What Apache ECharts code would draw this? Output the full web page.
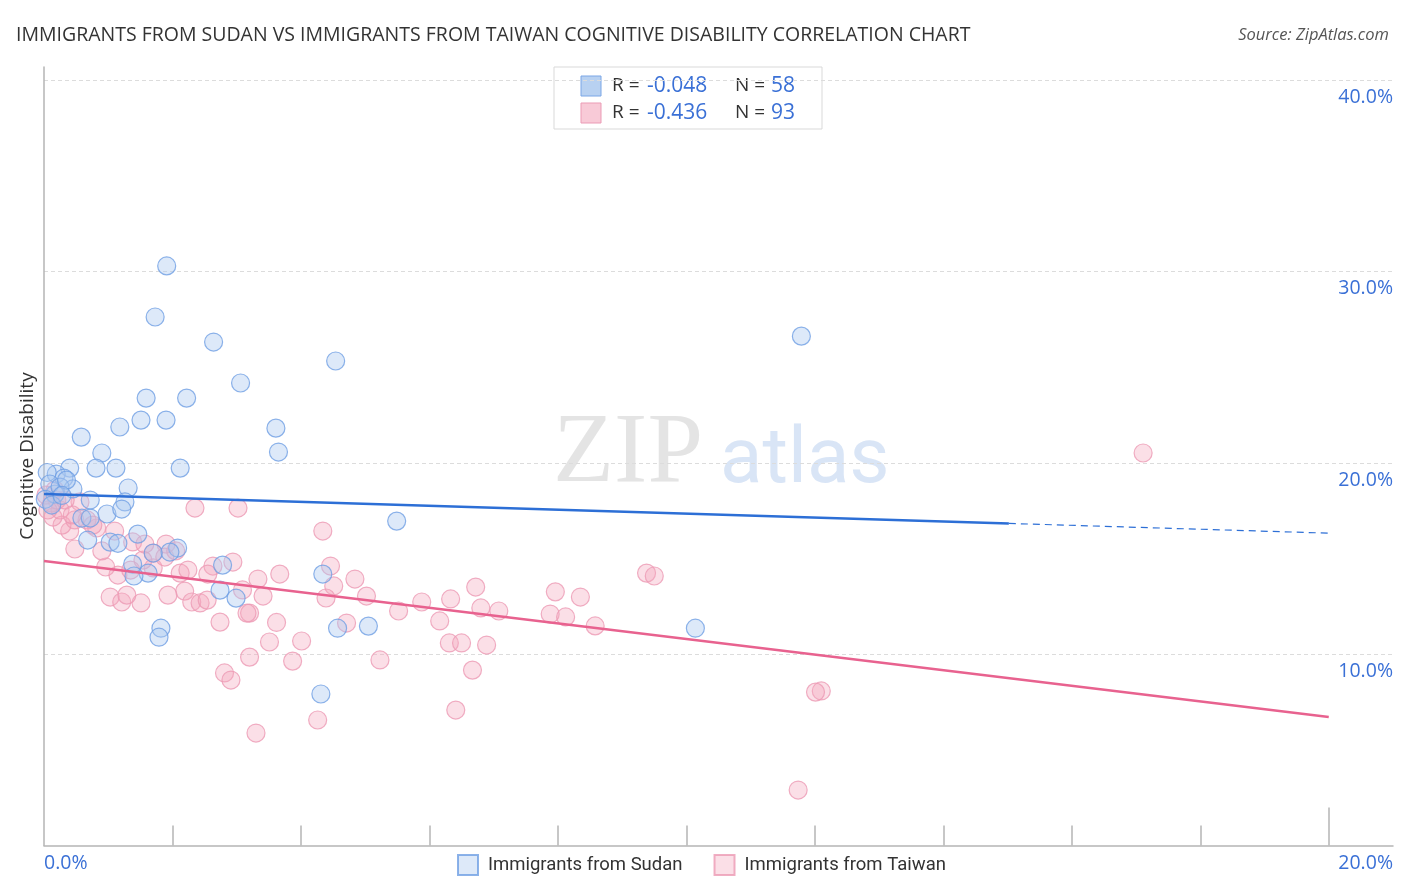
<!DOCTYPE html>
<html>
<head>
<meta charset="utf-8">
<title>Cognitive Disability correlation</title>
<script src="https://cdn.jsdelivr.net/npm/echarts@6/dist/echarts.min.js"></script>
<style>
html, body { margin: 0; padding: 0; background: #fff; }
#chart { width: 1406px; height: 892px; }
</style>
</head>
<body>
<div id="chart"></div>
<script>
// values in percent: [x share of immigrants, cognitive disability]
var sudanPoints = [
	[1.91, 30.30], [1.73, 27.63], [2.64, 26.32], [4.54, 25.33], [11.79, 26.63],
	[3.06, 24.18], [1.59, 23.39], [2.22, 23.39], [1.51, 22.24], [1.90, 22.24],
	[1.18, 21.88], [3.61, 21.82], [0.58, 21.35], [3.65, 20.57], [0.90, 20.52],
	[0.40, 19.73], [0.81, 19.73], [1.12, 19.73], [2.12, 19.73], [0.19, 19.42],
	[0.31, 19.21], [0.05, 19.50], [0.45, 18.64], [1.31, 18.69], [0.17, 18.37],
	[0.72, 18.06], [1.26, 17.96], [0.98, 17.33], [1.21, 17.59], [0.59, 17.12],
	[0.72, 17.12], [5.49, 16.96], [1.46, 16.28], [1.03, 15.86], [0.68, 15.97],
	[2.08, 15.55], [1.96, 15.34], [1.70, 15.29], [1.38, 14.71], [2.78, 14.66],
	[1.62, 14.24], [1.40, 14.09], [4.34, 14.19], [2.74, 13.35], [2.99, 12.93],
	[1.82, 11.36], [1.79, 10.89], [4.57, 11.36], [5.05, 11.47], [10.14, 11.36],
	[4.31, 7.92], [0.09, 18.90], [0.25, 18.74], [0.35, 19.10], [1.15, 15.80],
	[0.02, 18.10], [0.12, 17.80], [0.28, 18.30]
];
var taiwanPoints = [
	[17.11, 20.52], [12.10, 8.08], [12.01, 8.02], [11.74, 2.90], [9.38, 14.24],
	[9.50, 14.09], [7.96, 13.26], [8.35, 12.99], [7.88, 12.10], [8.12, 11.95],
	[8.58, 11.48], [6.72, 13.51], [6.33, 12.89], [5.88, 12.73], [5.52, 12.26],
	[6.80, 12.42], [7.08, 12.26], [6.16, 11.74], [6.31, 10.59], [6.50, 10.59],
	[6.89, 10.48], [6.67, 9.17], [6.41, 7.08], [5.23, 9.70], [5.02, 13.04],
	[4.84, 13.93], [4.51, 13.57], [4.39, 12.94], [4.46, 14.61], [4.34, 16.44],
	[4.71, 11.63], [4.26, 6.56], [4.01, 10.69], [3.87, 9.64], [3.62, 11.66],
	[3.67, 14.19], [3.33, 13.93], [3.41, 13.04], [3.51, 10.64], [3.20, 12.15],
	[3.30, 5.88], [3.20, 9.85], [2.81, 9.02], [2.91, 8.65], [3.02, 17.64],
	[2.35, 17.64], [2.94, 14.82], [2.63, 14.61], [2.55, 14.19], [3.09, 13.36],
	[3.16, 12.15], [2.74, 11.68], [2.19, 13.30], [1.93, 13.09], [2.30, 12.73],
	[2.43, 12.68], [2.54, 12.83], [1.51, 12.68], [1.03, 12.99], [1.21, 12.73],
	[1.29, 13.09], [2.12, 14.24], [1.70, 14.51], [1.90, 15.76], [1.70, 15.29],
	[1.54, 14.92], [1.15, 14.14], [0.96, 14.56], [0.90, 15.40], [0.48, 15.50],
	[1.10, 16.44], [1.38, 15.87], [1.57, 15.76], [1.88, 15.08], [0.82, 16.60],
	[0.40, 16.44], [0.28, 16.75], [0.14, 17.17], [0.25, 17.54], [0.12, 17.90],
	[0.20, 18.06], [0.17, 18.58], [0.56, 17.96], [0.67, 17.02], [0.76, 16.75],
	[0.48, 17.02], [0.06, 17.54], [0.33, 18.06], [2.05, 15.40], [0.44, 17.28],
	[1.35, 14.40], [2.24, 14.40], [0.03, 18.32]
];
// trend lines: value at x = 0% and x = 20%
var sudanFit = [18.37, 16.33];
var sudanSolidEnd = 15.02; // blue line turns dashed here
var taiwanFit = [14.87, 6.72];
var statsR = ['-0.048', '-0.436'];
var statsN = ['58', '93'];
var xTicks = [2, 4, 6, 8, 10, 12, 14, 16, 18];
var yLabels = [10, 20, 30, 40];

var BLUE_TXT = '#3a70d6';
var FONT = '"Open Sans"';
var fitAt = function(fit, x) {
	return fit[0] + (fit[1] - fit[0]) * x / 20;
};

var chart = echarts.init(document.getElementById('chart'));

var legendBox = function() {
	var items = [{
		type: 'rect',
		shape: { x: 554, y: 67, width: 268, height: 62 },
		style: { fill: '#fff', stroke: '#d9d9d9', lineWidth: 1 }
	}];
	var fills = ['rgba(171,201,239,0.85)', 'rgba(243,167,189,0.6)'];
	var strokes = ['#7aa6e6', '#eb9bb5'];
	for (var i = 0; i < 2; i++) {
		var cy = 86 + i * 27;
		items.push({
			type: 'rect',
			shape: { x: 581, y: cy - 10, width: 20, height: 20 },
			style: { fill: fills[i], stroke: strokes[i], lineWidth: 1 }
		});
		items.push({ type: 'text', style: { x: 612, y: cy, text: 'R =', fill: '#333', font: '19px ' + FONT, textVerticalAlign: 'middle' } });
		items.push({ type: 'text', style: { x: 647, y: cy, text: statsR[i], fill: BLUE_TXT, font: '21px ' + FONT, textVerticalAlign: 'middle' } });
		items.push({ type: 'text', style: { x: 735, y: cy, text: 'N =', fill: '#333', font: '19px ' + FONT, textVerticalAlign: 'middle' } });
		items.push({ type: 'text', style: { x: 771, y: cy, text: statsN[i], fill: BLUE_TXT, font: '21px ' + FONT, textVerticalAlign: 'middle' } });
	}
	return items;
};

var option = {
	animation: false,
	backgroundColor: '#fff',
	textStyle: { fontFamily: 'Open Sans' },
	title: [{
		text: 'IMMIGRANTS FROM SUDAN VS IMMIGRANTS FROM TAIWAN COGNITIVE DISABILITY CORRELATION CHART',
		left: 11,
		top: 20,
		textStyle: { fontSize: 19.5, fontWeight: 'normal', color: '#333', fontFamily: 'Open Sans' }
	}, {
		text: 'Source: ZipAtlas.com',
		right: 12,
		top: 22,
		textStyle: { fontSize: 16.5, fontWeight: 'normal', fontStyle: 'italic', color: '#555', fontFamily: 'Open Sans' }
	}],
	legend: {
		left: 457,
		top: 854,
		padding: 0,
		itemWidth: 20,
		itemHeight: 20,
		itemGap: 31,
		icon: 'rect',
		textStyle: { fontSize: 18.5, color: '#333', fontFamily: 'Roboto', padding: [0, 0, 0, 5] },
		data: ['Immigrants from Sudan', 'Immigrants from Taiwan']
	},
	grid: { left: 44, right: 13, top: 67, bottom: 46.5, containLabel: false },
	xAxis: [{
		type: 'value',
		min: 0,
		max: 21,
		interval: 2,
		axisLine: { show: true, lineStyle: { color: '#b5b5b5', width: 1.5 } },
		axisTick: { show: true, inside: true, length: 20, customValues: xTicks, lineStyle: { color: '#b5b5b5', width: 1.5 } },
		axisLabel: {
			customValues: [0, 21],
			alignMinLabel: 'left',
			alignMaxLabel: 'right',
			margin: 8,
			fontSize: 19.5,
			color: BLUE_TXT,
			fontFamily: 'Open Sans',
			formatter: function(v) { return v === 0 ? '0.0%' : '20.0%'; }
		},
		splitLine: { show: false }
	}, {
		type: 'value',
		min: 0,
		max: 21,
		interval: 2,
		position: 'bottom',
		axisLine: { show: false },
		axisTick: { show: true, inside: true, length: 38, customValues: [20], lineStyle: { color: '#b5b5b5', width: 1.5 } },
		axisLabel: { show: false },
		splitLine: { show: false }
	}],
	yAxis: [{
		type: 'value',
		min: 0,
		max: 40.7,
		interval: 10,
		position: 'left',
		axisLine: { show: true, lineStyle: { color: '#b5b5b5', width: 1.5 } },
		axisTick: { show: false },
		axisLabel: { show: false },
		splitLine: { show: true, showMinLine: false, showMaxLine: false, lineStyle: { type: [4, 3], color: '#dcdcdc', width: 1 } }
	}, {
		type: 'value',
		min: 0,
		max: 40.7,
		interval: 10,
		position: 'right',
		axisLine: { show: false },
		axisTick: { show: false },
		splitLine: { show: false },
		axisLabel: {
			inside: true,
			margin: 0,
			customValues: yLabels,
			fontSize: 19.5,
			color: BLUE_TXT,
			fontFamily: 'Open Sans',
			verticalAlign: 'top',
			padding: [7, 0, 0, 0],
			formatter: function(v) { return v.toFixed(1) + '%'; }
		}
	}],
	graphic: [{
		type: 'text',
		z: -1,
		style: { x: 553, y: 455, text: 'ZIP', fill: 'rgba(205,205,205,0.55)', font: '100px "Liberation Serif", "DejaVu Serif", serif', textVerticalAlign: 'middle' }
	}, {
		type: 'text',
		z: -1,
		style: { x: 720, y: 462, text: 'atlas', fill: 'rgba(170,198,235,0.45)', font: '78px Roboto', textVerticalAlign: 'middle' }
	}, {
		type: 'text',
		x: 28,
		y: 456,
		rotation: Math.PI / 2,
		style: { x: 0, y: 0, text: 'Cognitive Disability', fill: '#333', font: '19px ' + FONT, textAlign: 'center', textVerticalAlign: 'middle' }
	}].concat(legendBox()),
	series: [{
		name: 'Immigrants from Sudan',
		type: 'scatter',
		symbolSize: 18,
		itemStyle: { color: 'rgba(171,201,239,0.5)', borderColor: '#6f9fe3', borderWidth: 1.2 },
		data: sudanPoints,
		z: 3
	}, {
		name: 'Immigrants from Taiwan',
		type: 'scatter',
		symbolSize: 18,
		itemStyle: { color: 'rgba(243,167,189,0.45)', borderColor: '#ec9ab4', borderWidth: 1.2 },
		data: taiwanPoints,
		z: 2
	}, {
		name: 'sudanTrend',
		type: 'line',
		showSymbol: false,
		symbol: 'none',
		silent: true,
		lineStyle: { color: '#2d6fd6', width: 2.5 },
		data: [[0, sudanFit[0]], [sudanSolidEnd, fitAt(sudanFit, sudanSolidEnd)]],
		z: 5
	}, {
		name: 'sudanTrendDash',
		type: 'line',
		showSymbol: false,
		symbol: 'none',
		silent: true,
		lineStyle: { color: '#2d6fd6', width: 1.2, type: [7, 5] },
		data: [[sudanSolidEnd, fitAt(sudanFit, sudanSolidEnd)], [20, sudanFit[1]]],
		z: 5
	}, {
		name: 'taiwanTrend',
		type: 'line',
		showSymbol: false,
		symbol: 'none',
		silent: true,
		lineStyle: { color: '#e8628f', width: 2.5 },
		data: [[0, taiwanFit[0]], [20, taiwanFit[1]]],
		z: 5
	}]
};

chart.setOption(option);
</script>
</body>
</html>
